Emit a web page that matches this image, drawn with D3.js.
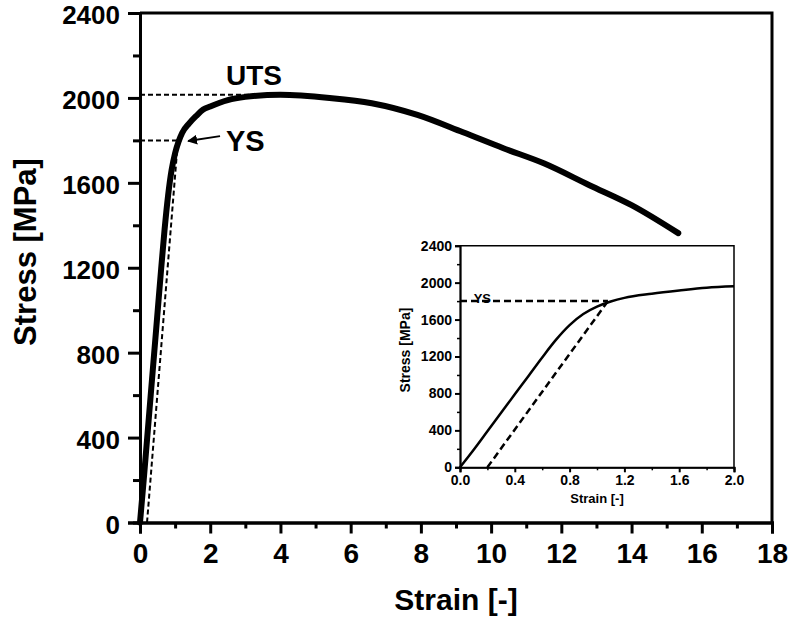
<!DOCTYPE html>
<html>
<head>
<meta charset="utf-8">
<script src="https://cdn.jsdelivr.net/npm/d3@7"></script>
<style>
  html, body { margin: 0; padding: 0; background: #fff; }
  svg text { font-family: "Liberation Sans", Arial, Helvetica, sans-serif; font-weight: bold; fill: #000; }
</style>
</head>
<body>
<svg id="chart" width="791" height="623"></svg>
<script>
// Tensile test: engineering strain vs stress
const strain = [0, 0.1, 0.2, 0.3, 0.4, 0.5, 0.6, 0.7, 0.8, 0.9, 1.0, 1.1, 1.2, 1.4, 1.6, 1.8, 2.0,
                2.5, 3.0, 4.0, 5.4, 6.6, 7.9, 9.2, 10.35, 11.5, 12.8, 14.0, 15.33];
const stress = [0, 190, 390, 590, 790, 990, 1190, 1380, 1540, 1660, 1740, 1795, 1835, 1880, 1915, 1945, 1960,
                1990, 2005, 2015, 2000, 1975, 1920, 1838, 1763, 1692, 1589, 1495, 1363];

// 0.2 offset line and characteristic levels
const offsetStrain = [0.2, 1.08];
const offsetStress = [0, 1800];
const ysStress = 1800;
const ysStrain = 1.08;
const utsStress = 2015;
const utsStrain = 3.95;

// tick values
const mainXTicks = [0, 2, 4, 6, 8, 10, 12, 14, 16, 18];
const mainXMinor = [1, 3, 5, 7, 9, 11, 13, 15, 17];
const mainYTicks = [0, 400, 800, 1200, 1600, 2000, 2400];
const mainYMinor = [200, 600, 1000, 1400, 1800, 2200];
const insetXTicks = [0, 0.4, 0.8, 1.2, 1.6, 2.0];
const insetXMinor = [0.2, 0.6, 1.0, 1.4, 1.8];
const insetYTicks = [0, 400, 800, 1200, 1600, 2000, 2400];
const insetYMinor = [200, 600, 1000, 1400, 1800, 2200];

const points = strain.map((s, i) => [s, stress[i]]);
const offsetPts = offsetStrain.map((s, i) => [s, offsetStress[i]]);

const svg = d3.select("#chart");
svg.append("rect").attr("width", 791).attr("height", 623).attr("fill", "#fff");

svg.append("defs").append("marker")
  .attr("id", "arrowHead")
  .attr("viewBox", "0 0 10 10")
  .attr("refX", 9).attr("refY", 5)
  .attr("markerWidth", 5).attr("markerHeight", 5)
  .attr("markerUnits", "strokeWidth")
  .attr("orient", "auto")
  .append("path").attr("d", "M0,0 L10,5 L0,10 z").attr("fill", "#000");

// ---------- main panel ----------
const M = { left: 140, right: 772, top: 13, bottom: 522.5 };
const x = d3.scaleLinear().domain([0, 18]).range([M.left, M.right]);
const y = d3.scaleLinear().domain([0, 2400]).range([M.bottom, M.top]);

const main = svg.append("g");

// dashed guides
main.append("line")
  .attr("x1", x(0)).attr("x2", x(utsStrain))
  .attr("y1", y(utsStress)).attr("y2", y(utsStress))
  .attr("stroke", "#000").attr("stroke-width", 2).attr("stroke-dasharray", "5,3");
main.append("line")
  .attr("x1", x(0)).attr("x2", x(ysStrain))
  .attr("y1", y(ysStress)).attr("y2", y(ysStress))
  .attr("stroke", "#000").attr("stroke-width", 2).attr("stroke-dasharray", "5,3");
main.append("path")
  .datum(offsetPts)
  .attr("d", d3.line().x(d => x(d[0])).y(d => y(d[1])))
  .attr("fill", "none").attr("stroke", "#000").attr("stroke-width", 2).attr("stroke-dasharray", "5,3");

// stress-strain curve
main.append("path")
  .datum(points)
  .attr("d", d3.line().x(d => x(d[0])).y(d => y(d[1])).curve(d3.curveMonotoneX))
  .attr("fill", "none").attr("stroke", "#000").attr("stroke-width", 6)
  .attr("stroke-linecap", "round").attr("stroke-linejoin", "round");

// frame (top, right)
main.append("path")
  .attr("d", `M${M.left},${M.top}H${M.right}V${M.bottom}`)
  .attr("fill", "none").attr("stroke", "#000").attr("stroke-width", 3);

function styleAxis(g, w) {
  g.select(".domain").attr("stroke", "#000").attr("stroke-width", w);
  g.selectAll(".tick line").attr("stroke", "#000").attr("stroke-width", w);
}

// minor ticks
main.append("g").attr("transform", `translate(0,${M.bottom})`)
  .call(d3.axisBottom(x).tickValues(mainXMinor).tickSize(6).tickFormat(""))
  .call(g => styleAxis(g, 3));
main.append("g").attr("transform", `translate(${M.left},0)`)
  .call(d3.axisLeft(y).tickValues(mainYMinor).tickSize(7).tickFormat(""))
  .call(g => styleAxis(g, 3));

// major axes
const gx = main.append("g").attr("transform", `translate(0,${M.bottom})`)
  .call(d3.axisBottom(x).tickValues(mainXTicks).tickSize(11).tickPadding(10).tickFormat(d3.format("d")))
  .call(g => styleAxis(g, 3));
gx.selectAll("text").attr("font-size", 28).attr("font-family", null);

const gy = main.append("g").attr("transform", `translate(${M.left},0)`)
  .call(d3.axisLeft(y).tickValues(mainYTicks).tickSize(12).tickPadding(8).tickFormat(d3.format("d")))
  .call(g => styleAxis(g, 3));
gy.selectAll("text").attr("font-size", 26).attr("dy", "0.42em").attr("font-family", null);

// axis titles
main.append("text")
  .attr("x", (M.left + M.right) / 2).attr("y", 610)
  .attr("text-anchor", "middle").attr("font-size", 30)
  .text("Strain [-]");
main.append("text")
  .attr("transform", `translate(36,252) rotate(-90)`)
  .attr("text-anchor", "middle").attr("font-size", 31)
  .text("Stress [MPa]");

// annotations
main.append("text").attr("x", x(2.45)).attr("y", y(2060))
  .attr("font-size", 28).text("UTS");
main.append("text").attr("x", x(2.45)).attr("y", y(1750))
  .attr("font-size", 29).text("YS");
main.append("line")
  .attr("x1", x(2.28)).attr("y1", y(1820))
  .attr("x2", x(1.37)).attr("y2", y(1797))
  .attr("stroke", "#000").attr("stroke-width", 2)
  .attr("marker-end", "url(#arrowHead)");

// ---------- inset panel ----------
const I = { left: 460, right: 734, top: 245.7, bottom: 467.3 };
const xi = d3.scaleLinear().domain([0, 2]).range([I.left, I.right]);
const yi = d3.scaleLinear().domain([0, 2400]).range([I.bottom, I.top]);

const inset = svg.append("g");
inset.append("rect")
  .attr("x", I.left).attr("y", I.top)
  .attr("width", I.right - I.left).attr("height", I.bottom - I.top)
  .attr("fill", "#fff");

inset.append("line")
  .attr("x1", xi(0)).attr("x2", xi(ysStrain))
  .attr("y1", yi(ysStress)).attr("y2", yi(ysStress))
  .attr("stroke", "#000").attr("stroke-width", 2.5).attr("stroke-dasharray", "7,4");
inset.append("path")
  .datum(offsetPts)
  .attr("d", d3.line().x(d => xi(d[0])).y(d => yi(d[1])))
  .attr("fill", "none").attr("stroke", "#000").attr("stroke-width", 2.5).attr("stroke-dasharray", "7,4");

inset.append("path")
  .datum(points.filter(d => d[0] <= 2))
  .attr("d", d3.line().x(d => xi(d[0])).y(d => yi(d[1])).curve(d3.curveMonotoneX))
  .attr("fill", "none").attr("stroke", "#000").attr("stroke-width", 2.5)
  .attr("stroke-linejoin", "round");

inset.append("path")
  .attr("d", `M${I.left},${I.top}H${I.right}V${I.bottom}`)
  .attr("fill", "none").attr("stroke", "#000").attr("stroke-width", 1.5);

inset.append("g").attr("transform", `translate(0,${I.bottom})`)
  .call(d3.axisBottom(xi).tickValues(insetXMinor).tickSize(3).tickFormat(""))
  .call(g => styleAxis(g, 1.5));
inset.append("g").attr("transform", `translate(${I.left},0)`)
  .call(d3.axisLeft(yi).tickValues(insetYMinor).tickSize(3).tickFormat(""))
  .call(g => styleAxis(g, 1.5));

const gxi = inset.append("g").attr("transform", `translate(0,${I.bottom})`)
  .call(d3.axisBottom(xi).tickValues(insetXTicks).tickSize(5).tickPadding(3).tickFormat(d3.format(".1f")))
  .call(g => styleAxis(g, 2));
gxi.selectAll("text").attr("font-size", 14).attr("font-family", null);

const gyi = inset.append("g").attr("transform", `translate(${I.left},0)`)
  .call(d3.axisLeft(yi).tickValues(insetYTicks).tickSize(5).tickPadding(3).tickFormat(d3.format("d")))
  .call(g => styleAxis(g, 2));
gyi.selectAll("text").attr("font-size", 14).attr("font-family", null);

inset.append("text")
  .attr("x", (I.left + I.right) / 2).attr("y", 503)
  .attr("text-anchor", "middle").attr("font-size", 13)
  .text("Strain [-]");
inset.append("text")
  .attr("transform", `translate(410,350) rotate(-90)`)
  .attr("text-anchor", "middle").attr("font-size", 14)
  .text("Stress [MPa]");

inset.append("text").attr("x", xi(0.1)).attr("y", yi(1780))
  .attr("font-size", 13).text("YS");
</script>
</body>
</html>
